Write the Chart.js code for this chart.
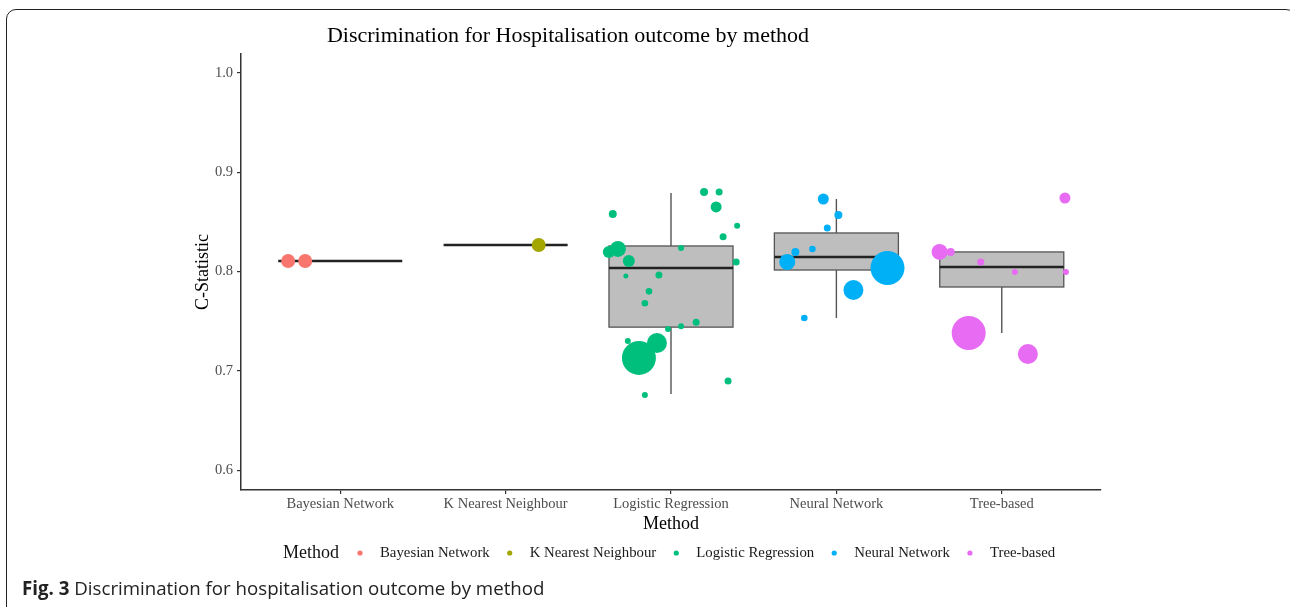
<!DOCTYPE html>
<html lang="en">
<head>
  <meta charset="UTF-8" />
  <title>Discrimination for Hospitalisation outcome by method</title>
  <script src="https://cdn.jsdelivr.net/npm/chart.js"></script>
  <style>
    body { margin: 0; background: #fff; }
    .pagina { position: relative; width: 1290px; height: 607px; overflow: hidden; }
    .moldura {
      position: absolute; left: 6px; top: 9px; width: 1290px; height: 610px;
      border: 1.5px solid #222; border-radius: 10px; box-sizing: border-box;
    }
    .grafico { position: absolute; left: 0; top: 0; width: 1290px; height: 607px; }
    .legenda-fig {
      position: absolute; left: 22px; top: 575px;
      font-family: "Open Sans", sans-serif; font-size: 18.7px; color: #222;
    }
  </style>
</head>
<body>
  <div class="pagina">
    <div class="moldura"></div>
    <div class="grafico"><canvas id="graficoMetodos"></canvas></div>
    <div class="legenda-fig"><b>Fig. 3</b> Discrimination for hospitalisation outcome by method</div>
  </div>

<script>
  // categorias e cores (paleta padrao do ggplot)
  const metodos = ['Bayesian Network', 'K Nearest Neighbour', 'Logistic Regression', 'Neural Network', 'Tree-based'];
  const cores = ['#F8766D', '#A3A500', '#00BF7D', '#00B0F6', '#E76BF3'];
  const yTicks = [0.6, 0.7, 0.8, 0.9, 1.0];

  // resumo dos boxplots: [whisker inferior, Q1, mediana, Q3, whisker superior]
  const boxBayes = [0.8106, 0.8106, 0.8106, 0.8106, 0.8106];
  const boxKnn = [0.8267, 0.8267, 0.8267, 0.8267, 0.8267];
  const boxLogistica = [0.6766, 0.744, 0.8035, 0.8257, 0.879];
  const boxNeural = [0.7532, 0.8015, 0.8146, 0.8388, 0.873];
  const boxArvore = [0.738, 0.7844, 0.8045, 0.8197, 0.8197];

  // pontos de cada estudo: deslocamento (jitter), C-statistic, tamanho do ponto
  const jitterBayes = [-0.315, -0.212];
  const cBayes = [0.8106, 0.8106];
  const tamBayes = [7, 7];

  const jitterKnn = [0.2];
  const cKnn = [0.8267];
  const tamKnn = [7];

  const jitterLogistica = [-0.352, 0.2, 0.291, 0.273, 0.4, 0.315, 0.061, -0.376, -0.321, -0.255, -0.273, 0.394,
    -0.073, -0.133, -0.158, 0.152, 0.061, -0.018, -0.261, -0.085, -0.194, 0.345, -0.158];
  const cLogistica = [0.858, 0.880, 0.880, 0.865, 0.846, 0.835, 0.8237, 0.8197, 0.8227, 0.8106, 0.7955, 0.8096,
    0.7965, 0.780, 0.768, 0.749, 0.745, 0.742, 0.730, 0.728, 0.713, 0.6897, 0.6756];
  const tamLogistica = [4, 4, 3.5, 5.5, 3, 3.5, 3, 6, 8, 6, 2.5, 3.5, 3.5, 3.3, 3.3, 3.5, 3, 3, 3, 10, 17, 3.5, 3];

  const jitterNeural = [-0.079, 0.012, -0.055, -0.145, -0.248, -0.297, 0.309, 0.103, -0.194];
  const cNeural = [0.873, 0.857, 0.8438, 0.8227, 0.8197, 0.8096, 0.8035, 0.7814, 0.7532];
  const tamNeural = [5.5, 4, 3.5, 3.3, 4, 8, 17, 10, 3.3];

  const jitterArvore = [0.382, -0.376, -0.309, -0.127, 0.079, 0.388, -0.2, 0.158];
  const cArvore = [0.874, 0.8197, 0.8197, 0.8096, 0.7995, 0.7995, 0.738, 0.7169];
  const tamArvore = [5.5, 8, 4, 3.5, 3, 3, 17, 10];

  const boxes = [boxBayes, boxKnn, boxLogistica, boxNeural, boxArvore];
  const jitters = [jitterBayes, jitterKnn, jitterLogistica, jitterNeural, jitterArvore];
  const valores = [cBayes, cKnn, cLogistica, cNeural, cArvore];
  const tamanhos = [tamBayes, tamKnn, tamLogistica, tamNeural, tamArvore];

  const fonteSerif = '"Liberation Serif", "Times New Roman", serif';

  function montarDatasets() {
    let datasets = [];
    for (let i = 0; i < metodos.length; i++) {
      let pontos = [];
      for (let j = 0; j < valores[i].length; j++) {
        pontos.push({ x: i + 1 + jitters[i][j], y: valores[i][j], r: tamanhos[i][j] });
      }
      datasets.push({
        label: metodos[i],
        data: pontos,
        backgroundColor: cores[i],
        borderWidth: 0,
        hoverBorderWidth: 0
      });
    }
    return datasets;
  }

  // desenha os boxplots antes dos pontos, e titulo + legenda depois
  const pluginBoxplot = {
    id: 'boxplot',
    beforeDatasetsDraw(chart) {
      const ctx = chart.ctx;
      const sx = chart.scales.x;
      const sy = chart.scales.y;
      ctx.save();
      for (let i = 0; i < boxes.length; i++) {
        const b = boxes[i];
        const xc = sx.getPixelForValue(i + 1);
        const x0 = sx.getPixelForValue(i + 1 - 0.375);
        const x1 = sx.getPixelForValue(i + 1 + 0.375);
        const yLo = sy.getPixelForValue(b[0]);
        const yQ1 = sy.getPixelForValue(b[1]);
        const yMed = sy.getPixelForValue(b[2]);
        const yQ3 = sy.getPixelForValue(b[3]);
        const yHi = sy.getPixelForValue(b[4]);

        // whiskers
        ctx.strokeStyle = '#555';
        ctx.lineWidth = 1.4;
        ctx.beginPath();
        ctx.moveTo(xc, yQ3); ctx.lineTo(xc, yHi);
        ctx.moveTo(xc, yQ1); ctx.lineTo(xc, yLo);
        ctx.stroke();

        // caixa
        if (yQ1 - yQ3 > 0.5) {
          ctx.fillStyle = '#bebebe';
          ctx.fillRect(x0, yQ3, x1 - x0, yQ1 - yQ3);
          ctx.strokeStyle = '#555';
          ctx.lineWidth = 1.3;
          ctx.strokeRect(x0, yQ3, x1 - x0, yQ1 - yQ3);
        }

        // mediana
        ctx.strokeStyle = '#222';
        ctx.lineWidth = 2.4;
        ctx.beginPath();
        ctx.moveTo(x0, yMed); ctx.lineTo(x1, yMed);
        ctx.stroke();
      }
      ctx.restore();
    },
    afterDraw(chart) {
      const ctx = chart.ctx;
      ctx.save();
      // titulo
      ctx.fillStyle = '#000';
      ctx.font = '22px ' + fonteSerif;
      ctx.textAlign = 'center';
      ctx.textBaseline = 'middle';
      ctx.fillText('Discrimination for Hospitalisation outcome by method', 568, 36);

      // legenda horizontal estilo ggplot
      const yLeg = 553;
      ctx.textAlign = 'left';
      ctx.font = '18px ' + fonteSerif;
      ctx.fillStyle = '#111';
      let x = 283;
      ctx.fillText('Method', x, yLeg);
      x += ctx.measureText('Method').width + 21;
      ctx.font = '14.8px ' + fonteSerif;
      for (let i = 0; i < metodos.length; i++) {
        ctx.fillStyle = cores[i];
        ctx.beginPath();
        ctx.arc(x, yLeg, 2.6, 0, Math.PI * 2);
        ctx.fill();
        x += 20;
        ctx.fillStyle = '#1a1a1a';
        ctx.fillText(metodos[i], x, yLeg);
        x += ctx.measureText(metodos[i]).width + 20;
      }
      ctx.restore();
    }
  };

  const config = {
    type: 'bubble',
    data: { datasets: montarDatasets() },
    options: {
      responsive: true,
      maintainAspectRatio: false,
      animation: false,
      layout: { padding: { top: 54, right: 189, bottom: 70, left: 190 } },
      plugins: {
        legend: { display: false },
        title: { display: false },
        tooltip: { enabled: false }
      },
      scales: {
        x: {
          type: 'linear',
          min: 0.4,
          max: 5.6,
          afterFit: (s) => { s.height = 47; },
          afterBuildTicks: (s) => { s.ticks = metodos.map((m, i) => ({ value: i + 1 })); },
          grid: { drawOnChartArea: false, drawTicks: true, tickLength: 4, color: '#333', lineWidth: 1.2 },
          border: { display: true, color: '#333', width: 1.5 },
          ticks: {
            autoSkip: false,
            maxRotation: 0,
            padding: 1,
            color: '#4d4d4d',
            font: { family: fonteSerif, size: 14.5 },
            callback: (v) => metodos[Math.round(v) - 1]
          },
          title: {
            display: true,
            text: 'Method',
            color: '#000',
            padding: { top: 0, bottom: 2 },
            font: { family: fonteSerif, size: 18 }
          }
        },
        y: {
          type: 'linear',
          min: 0.58,
          max: 1.019,
          afterFit: (s) => { s.width = 51; },
          afterBuildTicks: (s) => { s.ticks = yTicks.map(v => ({ value: v })); },
          grid: { drawOnChartArea: false, drawTicks: true, tickLength: 4, color: '#333', lineWidth: 1.2 },
          border: { display: true, color: '#333', width: 1.5 },
          ticks: {
            padding: 4,
            color: '#4d4d4d',
            font: { family: fonteSerif, size: 14.5 },
            callback: (v) => Number(v).toFixed(1)
          },
          title: {
            display: true,
            text: 'C-Statistic',
            color: '#000',
            padding: { top: 2, bottom: 0 },
            font: { family: fonteSerif, size: 18 }
          }
        }
      }
    },
    plugins: [pluginBoxplot]
  };

  const ctx = document.getElementById('graficoMetodos').getContext('2d');
  new Chart(ctx, config);
</script>
</body>
</html>
